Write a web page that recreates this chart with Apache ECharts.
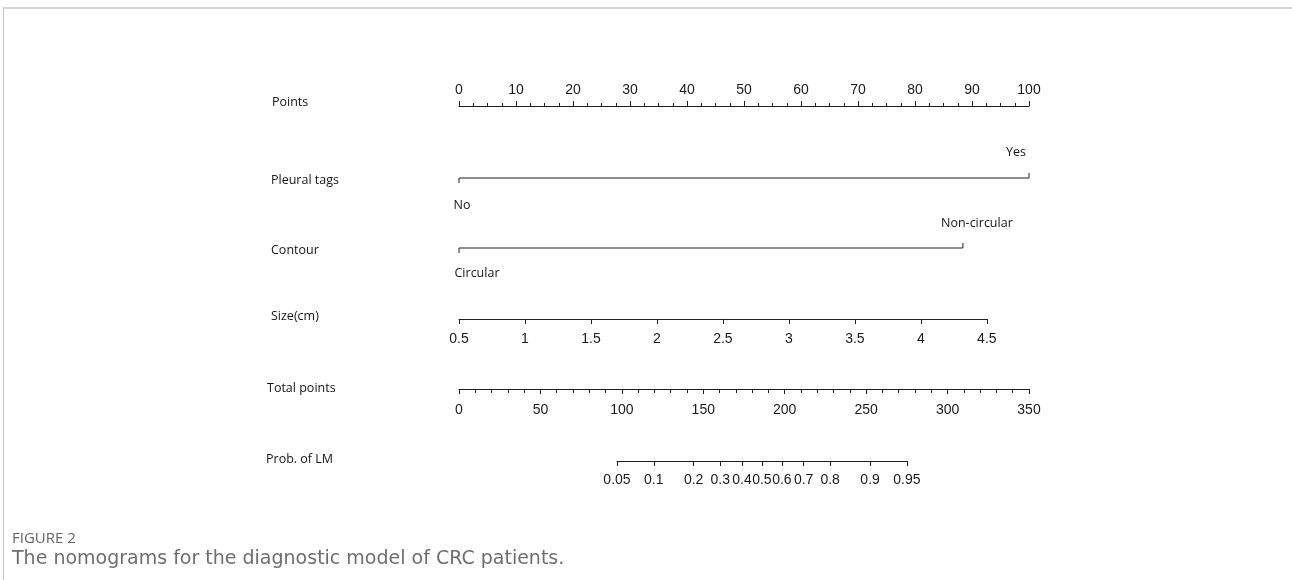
<!DOCTYPE html>
<html>
<head>
<meta charset="utf-8">
<script src="https://cdn.jsdelivr.net/npm/echarts@6/dist/echarts.min.js"></script>
<style>
  html, body { margin: 0; padding: 0; background: #fff; }
  #frame { position: absolute; left: 3px; top: 7px; right: 0; bottom: -10px;
           border-top: 2px solid #d8d8d8; border-left: 1px solid #c4c4c4; }
  #chart { position: absolute; left: 0; top: 0; width: 1292px; height: 580px; }
</style>
</head>
<body>
<div id="frame"></div>
<div id="chart"></div>
<script>
// ---- data ----
const rowNames = ['Points', 'Pleural tags', 'Contour', 'Size(cm)', 'Total points', 'Prob. of LM'];
const pointsRange = [0, 100];
const pointsStep = 10;
const pleuralLevels = ['No', 'Yes'];
const pleuralPoints = [0, 100];
const contourLevels = ['Circular', 'Non-circular'];
const contourPoints = [0, 88.4];
const sizeTicks = [0.5, 1, 1.5, 2, 2.5, 3, 3.5, 4, 4.5];
const sizePoints = [0, 92.6];           // points at smallest / largest size
const totalRange = [0, 350];
const totalStep = 50;
const probTicks = [0.05, 0.1, 0.2, 0.3, 0.4, 0.5, 0.6, 0.7, 0.8, 0.9, 0.95];
const probTotalPoints = [97, 275];      // total points at p = 0.05 and p = 0.95
const captionHead = 'FIGURE 2';
const captionText = 'The nomograms for the diagnostic model of CRC patients.';

// ---- layout ----
const ptsLeft = 459, ptsWidth = 570;
const lineColor = '#1e1e1e';
const tickFont = { fontFamily: 'Liberation Sans, Arial, sans-serif', fontSize: 14, color: '#1a1a1a' };
const nameFont = 'Open Sans, sans-serif';
const logit = p => Math.log(p / (1 - p));
const totalPx = v => v / totalRange[1] * ptsWidth;

const grids = [
  { left: ptsLeft, width: ptsWidth, top: 106, height: 10 },                                  // points
  { left: ptsLeft, width: ptsWidth, top: 173, height: 10 },                                  // pleural
  { left: ptsLeft, width: ptsWidth, top: 243, height: 10 },                                  // contour
  { left: ptsLeft, width: ptsWidth * (sizePoints[1] - sizePoints[0]) / 100, top: 309, height: 10 }, // size
  { left: ptsLeft, width: ptsWidth, top: 379, height: 10 },                                  // total
  { left: ptsLeft + totalPx(probTotalPoints[0]), width: totalPx(probTotalPoints[1] - probTotalPoints[0]), top: 451, height: 10 } // prob
];

const baseLine = { show: true, onZero: false, lineStyle: { color: lineColor, width: 1 } };
const baseTick = (len) => ({ show: true, length: len, lineStyle: { color: lineColor, width: 1 } });

const xAxes = [
  { gridIndex: 0, type: 'value', position: 'top', min: pointsRange[0], max: pointsRange[1], interval: pointsStep,
    axisLine: baseLine, axisTick: baseTick(5),
    minorTick: { show: true, splitNumber: 4, length: 3, lineStyle: { color: lineColor, width: 1 } },
    axisLabel: Object.assign({ margin: 9 }, tickFont), splitLine: { show: false } },
  { gridIndex: 1, type: 'value', min: 0, max: 100, show: false },
  { gridIndex: 2, type: 'value', min: 0, max: 100, show: false },
  { gridIndex: 3, type: 'value', position: 'bottom', min: sizeTicks[0], max: sizeTicks[sizeTicks.length - 1], interval: 0.5,
    axisLine: baseLine, axisTick: baseTick(5),
    axisLabel: Object.assign({ margin: 13 }, tickFont), splitLine: { show: false } },
  { gridIndex: 4, type: 'value', position: 'bottom', min: totalRange[0], max: totalRange[1], interval: totalStep,
    axisLine: baseLine, axisTick: baseTick(5),
    minorTick: { show: true, splitNumber: 5, length: 4, lineStyle: { color: lineColor, width: 1 } },
    axisLabel: Object.assign({ margin: 14 }, tickFont), splitLine: { show: false } },
  { gridIndex: 5, type: 'value', position: 'bottom', min: logit(probTicks[0]), max: logit(probTicks[probTicks.length - 1]),
    axisLine: baseLine,
    axisTick: Object.assign(baseTick(5), { customValues: probTicks.map(logit) }),
    axisLabel: Object.assign({ margin: 12, customValues: probTicks.map(logit),
      formatter: v => String(Number((1 / (1 + Math.exp(-v))).toPrecision(2))) }, tickFont),
    splitLine: { show: false } }
];

const yAxes = grids.map((g, i) => ({ gridIndex: i, type: 'value', min: -1, max: 1, show: false }));

const levelLabel = { fontFamily: nameFont, fontSize: 12.5, color: '#151515' };
function levelSeries(gridIndex, levels, pts, offsets, dists) {
  const lo = Object.assign({ show: true, formatter: levels[0], position: 'bottom', distance: dists[0], offset: offsets[0] }, levelLabel);
  const hi = Object.assign({ show: true, formatter: levels[1], position: 'top', distance: dists[1], offset: offsets[1] }, levelLabel);
  return {
    type: 'line', xAxisIndex: gridIndex, yAxisIndex: gridIndex, clip: false,
    symbol: 'circle', symbolSize: 1, itemStyle: { color: 'rgba(0,0,0,0)' },
    lineStyle: { color: lineColor, width: 1 }, silent: true,
    data: [
      { value: [pts[0], -1], label: lo },
      { value: [pts[0], 0] },
      { value: [pts[1], 0] },
      { value: [pts[1], 1], label: hi }
    ]
  };
}

const rowPos = [[272, 104], [271, 182], [271, 252], [271, 318], [267, 390], [266, 461]];
const graphics = rowNames.map((n, i) => ({
  type: 'text', left: rowPos[i][0], top: rowPos[i][1] - 8,
  style: { text: n, fontFamily: nameFont, fontSize: 12.5, fill: '#151515' }
}));
graphics.push({ type: 'text', left: 12, top: 531, style: { text: captionHead, fontFamily: nameFont, fontSize: 15, fill: '#666' } });
graphics.push({ type: 'text', left: 12, top: 550, style: { text: captionText, fontFamily: 'DejaVu Sans, sans-serif', fontSize: 19, fill: '#6e6e6e' } });

const chart = echarts.init(document.getElementById('chart'), null, { renderer: 'canvas' });
chart.setOption({
  animation: false,
  grid: grids,
  xAxis: xAxes,
  yAxis: yAxes,
  series: [
    levelSeries(1, pleuralLevels, pleuralPoints, [[3, 0], [-13, 0]], [15, 14]),
    levelSeries(2, contourLevels, contourPoints, [[18, 0], [14, 0]], [13, 13])
  ],
  graphic: graphics
});
</script>
</body>
</html>
